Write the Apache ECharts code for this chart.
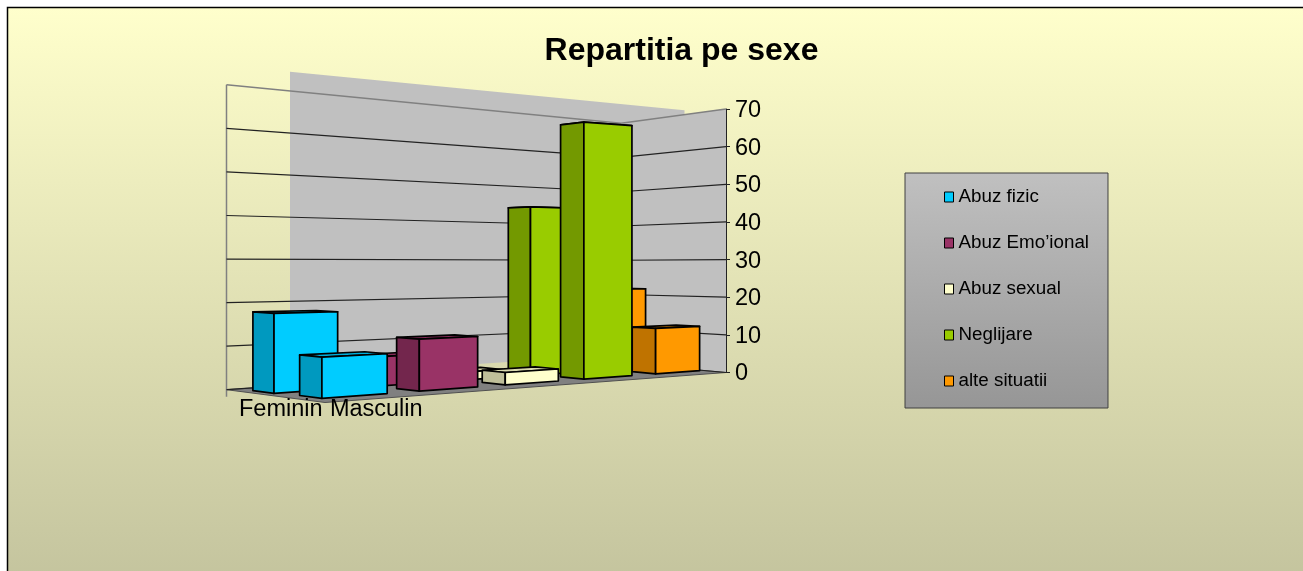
<!DOCTYPE html>
<html><head><meta charset="utf-8">
<style>html,body{margin:0;padding:0;background:#fff}#c{width:1303px;height:571px}</style>
<script src="https://cdn.jsdelivr.net/npm/echarts@6/dist/echarts.min.js"></script>
</head><body><div id="c"></div>
<script>
const categories = ['Feminin', 'Masculin'];
const seriesNames = ['Abuz fizic', 'Abuz Emo’ional', 'Abuz sexual', 'Neglijare', 'alte situatii'];
const feminin = [18, 7, 2, 44, 22];
const masculin = [9, 12, 3, 65, 12];
const yTicks = [0, 10, 20, 30, 40, 50, 60, 70];
const colors = ['#00CCFF', '#993366', '#FFFFCC', '#99CC00', '#FF9900'];

// perspective floor (screen corners), s runs along the series, d runs along the categories
const L = [226.5, 389.7], B = [621, 363], R = [726, 372.5], F = [325, 402.5];
const kCorner = { L: 1.157, B: 0.91, R: 1, F: 1.25 };
const rowS0 = [[0.027, 0.238, 0.44, 0.643, 0.832], [0.04, 0.259, 0.466, 0.668, 0.864]];
const rowSW = [[0.142, 0.13, 0.13, 0.13, 0.13], [0.145, 0.139, 0.135, 0.13, 0.126]];
const depthStart = [0.15, 0.57], barD = 0.22;
const wallShift = [63.5, -13];

const sx = L[0] - B[0] + R[0] - F[0], sy = L[1] - B[1] + R[1] - F[1];
const dx1 = B[0] - R[0], dx2 = F[0] - R[0], dy1 = B[1] - R[1], dy2 = F[1] - R[1];
const det = dx1 * dy2 - dx2 * dy1;
const gH = (sx * dy2 - dx2 * sy) / det, hH = (dx1 * sy - sx * dy1) / det;
function floorPt(s, d) {
  const w = 1 + gH * s + hH * d;
  return [((B[0] - L[0] + gH * B[0]) * s + (F[0] - L[0] + hH * F[0]) * d + L[0]) / w,
          ((B[1] - L[1] + gH * B[1]) * s + (F[1] - L[1] + hH * F[1]) * d + L[1]) / w];
}
function scaleAt(s, d) {
  return 1 / ((1 - s) * (1 - d) / kCorner.L + s * (1 - d) / kCorner.B + s * d / kCorner.R + (1 - s) * d / kCorner.F);
}
function pt(api, s, d, v) {
  const p = floorPt(s, d);
  const px = api.coord([0, 0])[1] - api.coord([0, v])[1];
  return [p[0], p[1] - px * scaleAt(s, d)];
}
function shade(hex, f) {
  const n = parseInt(hex.slice(1), 16);
  return 'rgb(' + [(n >> 16) & 255, (n >> 8) & 255, n & 255].map(c => Math.round(c * f)).join(',') + ')';
}
function renderBar(params, api) {
  const k = params.seriesIndex - 2;
  const row = api.value(0), v = api.value(1);
  const s0 = rowS0[row][k], s1 = s0 + rowSW[row][k];
  const d0 = depthStart[row], d1 = d0 + barD;
  const base = (row * 10 + (4 - k)) * 4;
  const face = (points, fill, i) => ({
    type: 'polygon', z2: base + i,
    shape: { points },
    style: { fill, stroke: '#000', lineWidth: 1.7, lineJoin: 'round' }
  });
  const c = colors[k];
  return { type: 'group', children: [
    face([pt(api, s0, d0, v), pt(api, s1, d0, v), pt(api, s1, d1, v), pt(api, s0, d1, v)], shade(c, 0.85), 0),
    face([pt(api, s0, d0, 0), pt(api, s0, d1, 0), pt(api, s0, d1, v), pt(api, s0, d0, v)], shade(c, 0.75), 1),
    face([pt(api, s0, d1, 0), pt(api, s1, d1, 0), pt(api, s1, d1, v), pt(api, s0, d1, v)], c, 2)
  ] };
}
function renderWalls(params, api) {
  const v = api.value(1);
  const sh = p => [p[0] + wallShift[0], p[1] + wallShift[1]];
  return { type: 'group', children: [
    { type: 'polygon', z2: 0, shape: { points: [pt(api, 0, 0, v), pt(api, 1, 0, v), pt(api, 1, 0, 0), pt(api, 0, 0, 0)].map(sh) }, style: { fill: '#C0C0C0' } },
    { type: 'polygon', z2: 1, shape: { points: [pt(api, 1, 0, v), pt(api, 1, 1, v), pt(api, 1, 1, 0), pt(api, 1, 0, 0)] }, style: { fill: '#C0C0C0' } },
    { type: 'polygon', z2: 2, shape: { points: [L, B, R, F] }, style: { fill: '#808080', stroke: '#505050', lineWidth: 1 } },
    { type: 'line', z2: 3, shape: { x1: L[0], y1: pt(api, 0, 0, v)[1], x2: L[0], y2: L[1] + 7 }, style: { stroke: '#808080', lineWidth: 1.5 } },
    { type: 'line', z2: 3, shape: { x1: B[0], y1: pt(api, 1, 0, v)[1], x2: B[0], y2: B[1] }, style: { stroke: '#808080', lineWidth: 1.5 } }
  ] };
}
function renderGrid(params, api) {
  const v = api.value(1);
  const top = v === yTicks[yTicks.length - 1];
  return { type: 'polyline', z2: 4,
    shape: { points: [pt(api, 0, 0, v), pt(api, 1, 0, v), pt(api, 1, 1, v)] },
    style: { fill: 'none', stroke: top ? '#808080' : '#222', lineWidth: top ? 1.5 : 1.2 } };
}

const chart = echarts.init(document.getElementById('c'), null, { renderer: 'canvas' });
const font = '"Liberation Sans", Arial, sans-serif';
chart.setOption({
  animation: false,
  title: { text: 'Repartitia pe sexe', left: 676.5, top: 30, textAlign: 'center',
    textStyle: { fontFamily: font, fontSize: 32, fontWeight: 'bold', color: '#000' } },
  graphic: [{ type: 'rect', z: -10, silent: true,
    shape: { x: 7.5, y: 7.5, width: 1310, height: 570 },
    style: { fill: new echarts.graphic.LinearGradient(0, 0, 0, 1, [
      { offset: 0, color: '#FFFFCC' }, { offset: 1, color: '#C4C49E' }]), stroke: '#000', lineWidth: 1.5 } }],
  legend: { orient: 'vertical', left: 905, top: 173, icon: 'rect',
    data: seriesNames, itemWidth: 9, itemHeight: 10, itemGap: 25,
    padding: [13.5, 19, 16.5, 39], borderColor: '#404040', borderWidth: 1,
    backgroundColor: new echarts.graphic.LinearGradient(0, 0, 0, 1, [
      { offset: 0, color: '#C0C0C0' }, { offset: 1, color: '#969696' }]),
    itemStyle: { borderColor: '#000', borderWidth: 1 },
    selectedMode: false,
    textStyle: { fontFamily: font, fontSize: 18.8, lineHeight: 21, color: '#000' } },
  grid: [
    { left: 226, width: 500, top: 109, height: 263.5, containLabel: false },
    { left: 233, width: 191, top: 397, height: 1, containLabel: false }
  ],
  xAxis: [
    { type: 'category', gridIndex: 0, data: categories, show: false },
    { type: 'category', gridIndex: 1, data: categories, z: 6,
      axisLine: { show: false }, axisTick: { show: false },
      axisLabel: { interval: 0, margin: 0, fontFamily: font, fontSize: 23.5, color: '#000' } }
  ],
  yAxis: [
    { type: 'value', gridIndex: 0, position: 'right', min: 0, max: 70, interval: 10, z: 6,
      splitLine: { show: false },
      axisLine: { show: true, lineStyle: { color: '#222', width: 1 } },
      axisTick: { show: true, length: 4, lineStyle: { color: '#222', width: 1 } },
      axisLabel: { margin: 9, verticalAlign: 'top', lineHeight: 3, fontFamily: font, fontSize: 23.5, color: '#000' } },
    { type: 'value', gridIndex: 1, show: false, min: 0, max: 1 }
  ],
  series: [
    { type: 'custom', name: 'walls', xAxisIndex: 0, yAxisIndex: 0, z: 1, silent: true, clip: false,
      renderItem: renderWalls, data: [[0, yTicks[yTicks.length - 1]]] },
    { type: 'custom', name: 'gridlines', xAxisIndex: 0, yAxisIndex: 0, z: 1, silent: true, clip: false,
      renderItem: renderGrid, data: yTicks.map(t => [0, t]) }
  ].concat(seriesNames.map((name, k) => ({
    type: 'custom', name, xAxisIndex: 0, yAxisIndex: 0, z: 3, clip: false, silent: true,
    itemStyle: { color: colors[k] },
    encode: { x: 0, y: 1 },
    renderItem: renderBar,
    data: [[0, feminin[k]], [1, masculin[k]]]
  })))
});
</script></body></html>
